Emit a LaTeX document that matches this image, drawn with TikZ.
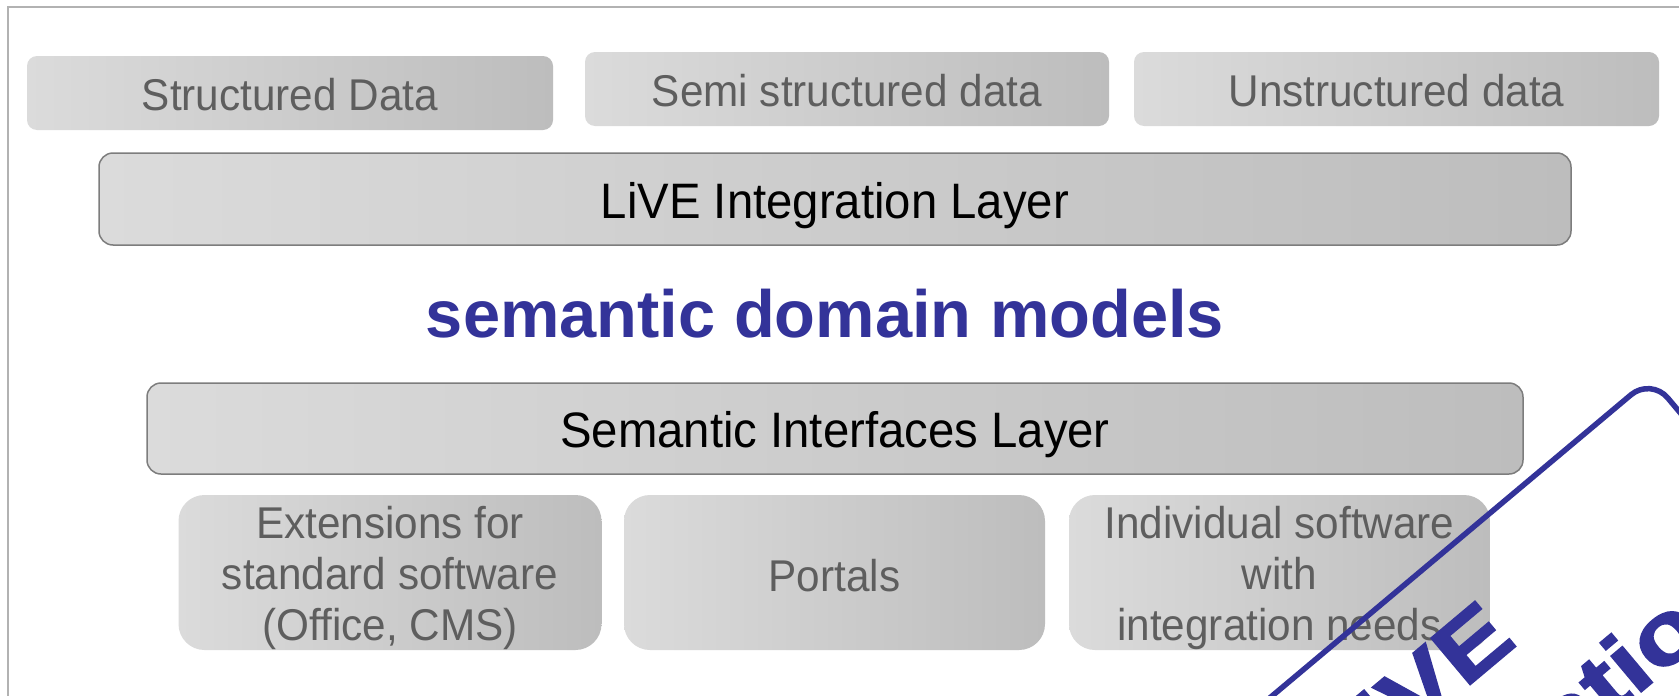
\documentclass[tikz,border=0pt]{standalone}
\usepackage{fontspec}
\setmainfont{Liberation Sans}
\newfontfamily\boxfont{Liberation Sans}[FakeStretch=0.95]
\newfontfamily\stampfont{Liberation Sans}[FakeStretch=1.2,FakeBold=2]
\definecolor{stampblue}{RGB}{51,51,153}
\definecolor{graytxt}{RGB}{94,94,94}
\definecolor{boxL}{RGB}{219,219,219}
\definecolor{boxR}{RGB}{189,189,189}
\definecolor{boxedge}{RGB}{125,125,125}
\definecolor{framegray}{RGB}{178,178,178}
\begin{document}
\begin{tikzpicture}[x=1pt,y=-1pt,
  gbox/.style 2 args={minimum width=#1, minimum height=#2, inner sep=0pt,
    rounded corners=10pt, left color=boxL, right color=boxR},
  softbox/.style 2 args={gbox={#1}{#2}, rounded corners=26pt},
  layerbox/.style 2 args={gbox={#1}{#2}, rounded corners=14pt, draw=boxedge, line width=1.5pt},
  graylabel/.style={font=\boxfont\fontsize{44.5}{51}\selectfont, text=graytxt, inner sep=0pt},
  oneline/.style={text height=32pt, text depth=0pt},
  layerlabel/.style={font=\boxfont\fontsize{49.8}{58}\selectfont, text=black, inner sep=0pt,
    text height=35.6pt, text depth=0pt},
  headline/.style={font=\bfseries\fontsize{66.8}{80}\selectfont, text=stampblue, inner sep=0pt},
  stamptext/.style={font=\stampfont\bfseries\fontsize{88}{100}\selectfont, text=stampblue, inner sep=0pt, rotate=40},
  stampframe/.style={draw=stampblue, line width=5.5pt, rounded corners=26pt}
]
\useasboundingbox (0,0) rectangle (1679,696);
\clip (0,0) rectangle (1679,696);
\fill[white] (0,0) rectangle (1679,696);

% outer frame (top and left edges visible)
\draw[framegray, line width=2pt] (8,696) -- (8,7) -- (1679,7);

% top row: data sources
\node[gbox={526pt}{74pt}] (sd) at (290,93) {};
\node[graylabel, oneline] (sdt) at ([yshift=-1pt]sd.center) {Structured Data};
\node[gbox={524pt}{74pt}] (ssd) at (847,89) {};
\node[graylabel, oneline] (ssdt) at ([yshift=-1pt]ssd.center) {Semi structured data};
\node[gbox={525pt}{74pt}] (usd) at (1396.5,89) {};
\node[graylabel, oneline] (usdt) at ([yshift=-1pt]usd.center) {Unstructured data};

% integration layer
\node[layerbox={1472pt}{92pt}] (lil) at (835,199) {};
\node[layerlabel] (lilt) at ([yshift=-2pt]lil.center) {LiVE Integration Layer};

% heading
\node[headline, anchor=base] (sdm) at (825,337) {semantic domain models};

% semantic interfaces layer
\node[layerbox={1376pt}{91pt}] (sil) at (835,428.5) {};
\node[layerlabel] (silt) at ([yshift=-1pt]sil.center) {Semantic Interfaces Layer};

% bottom row: applications
\node[softbox={423pt}{155pt}] (ext) at (390,572.5) {};
\node[graylabel, align=center] (extt) at ([yshift=-5pt]ext.center) {Extensions for\\standard software\\(Office, CMS)};
\node[softbox={421pt}{155pt}] (por) at (834.5,572.5) {};
\node[graylabel, oneline] (port) at ([yshift=-3pt]por.center) {Portals};
\node[softbox={421pt}{155pt}] (ind) at (1279.5,572.5) {};
\node[graylabel, align=center] (indt) at ([yshift=-5pt]ind.center) {Individual software\\with\\integration needs};

% rotated stamp
\begin{scope}[shift={(1651,378)}, rotate=40]
  \draw[stampframe] (-800,0) rectangle (0,520);
  \node[stamptext, anchor=base east] (live) at (-272,118.5) {LiVE};
  \node[stamptext, anchor=base west] (integ) at (-604,234) {Integration};
\end{scope}
\end{tikzpicture}
\end{document}
